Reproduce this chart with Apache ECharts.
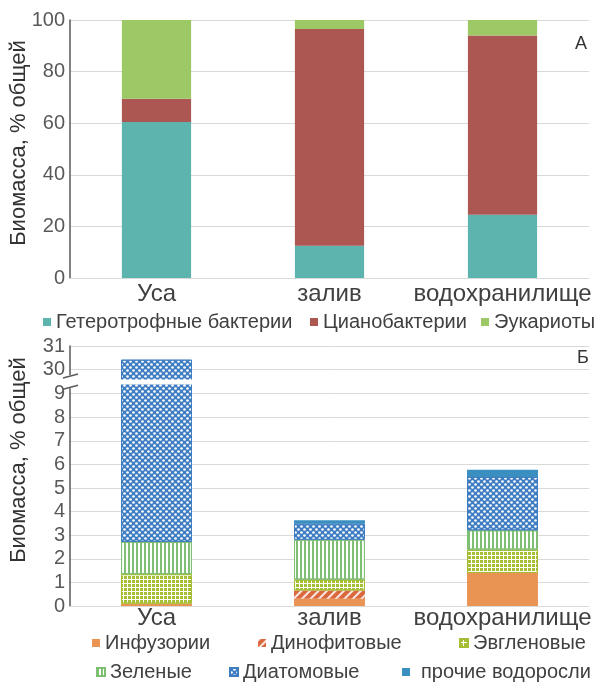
<!DOCTYPE html>
<html><head><meta charset="utf-8">
<script src="https://cdn.jsdelivr.net/npm/echarts@6/dist/echarts.min.js"></script>
<style>html,body{margin:0;padding:0;background:#fff}#c{width:600px;height:684px}</style>
</head><body><div id="c"></div>
<script>
// ---- data ----
const categories = ['Уса', 'залив', 'водохранилище'];
const seriesTopNames = ['Гетеротрофные бактерии', 'Цианобактерии', 'Эукариоты'];
const heterotrophs = [60.5, 12.5, 24.5];
const cyanobacteria = [9.0, 84.0, 69.5];
const eukaryotes = [30.5, 3.5, 6.0];
const topYMax = 100;
const topYInterval = 20;

const seriesBottomNames = ['Инфузории', 'Динофитовые', 'Эвгленовые', 'Зеленые', 'Диатомовые', 'прочие водоросли'];
const infusoria = [0.1, 0.31, 1.40];
const dinophytes = [0, 0.35, 0];
const euglenoids = [1.25, 0.46, 0.99];
const greens = [1.37, 1.69, 0.82];
const diatoms = [27.7, 0.68, 2.26];
const otherAlgae = [0, 0.14, 0.31];
const bottomYMax = 31;
const bottomYTicks = [0, 1, 2, 3, 4, 5, 6, 7, 8, 9, 30, 31];
const bottomBreak = {start: 9.4, end: 29.6};

// ---- chart ----
const FF = '"Liberation Sans", Arial, sans-serif';
const chart = echarts.init(document.getElementById('c'));

const gridLine = {show: true, lineStyle: {color: '#d9d9d9', width: 1}};
const yLabel = {color: '#595959', fontSize: 20, fontFamily: FF, margin: 5};
const xLabel = {color: '#404040', fontSize: 24, fontFamily: FF, interval: 0};
const legText = {color: '#404040', fontSize: 20, fontFamily: FF};
const nameStyle = {fontSize: 22, fontFamily: FF, fill: '#333', align: 'center', verticalAlign: 'middle'};

function legendFor(name, left, top, padLeft) {
  return {data: [name], left: left, top: top, itemWidth: 8, itemHeight: 8, icon: 'rect',
    itemGap: 0, textStyle: Object.assign({}, legText, {padding: [0, 0, 0, padLeft || 0]}),
    padding: 0, selectedMode: false};
}

const bottomColors = {
  inf: '#ea9454', dino: '#d9683f', eug: '#a6be36', green: '#7fbf73', diat: '#3f7dc2', other: '#3b8fc0'
};

const option = {
  animation: false,
  backgroundColor: '#fff',
  grid: [
    {left: 70, right: 11, top: 20, height: 258},
    {left: 70, right: 11, top: 346, height: 260}
  ],
  xAxis: [
    {type: 'category', gridIndex: 0, data: categories, axisTick: {show: false},
     axisLine: {lineStyle: {color: '#d9d9d9'}}, axisLabel: Object.assign({}, xLabel, {margin: 4})},
    {type: 'category', gridIndex: 1, data: categories, axisTick: {show: false},
     axisLine: {lineStyle: {color: '#d9d9d9'}}, axisLabel: Object.assign({}, xLabel, {margin: 0})}
  ],
  yAxis: [
    {type: 'value', gridIndex: 0, min: 0, max: topYMax, interval: topYInterval,
     axisLine: {show: true, lineStyle: {color: '#595959', width: 1.5}}, axisTick: {show: false},
     splitLine: gridLine, axisLabel: yLabel},
    {type: 'value', gridIndex: 1, min: 0, max: bottomYMax, interval: 1,
     breaks: [{start: bottomBreak.start, end: bottomBreak.end, gap: '2%'}],
     breakArea: {show: true, zigzagAmplitude: 0, zigzagZ: 100,
       itemStyle: {color: '#fff', borderColor: '#fff', borderWidth: 0, opacity: 1}},
     axisLine: {show: true, lineStyle: {color: '#595959', width: 1.5}},
     axisTick: {show: false, customValues: bottomYTicks},
     splitLine: gridLine,
     axisLabel: Object.assign({}, yLabel, {customValues: bottomYTicks})}
  ],
  legend: [
    legendFor(seriesTopNames[0], 43, 312, 0),
    legendFor(seriesTopNames[1], 310, 312, 0),
    legendFor(seriesTopNames[2], 481, 312, 0),
    legendFor(seriesBottomNames[0], 92, 633, 0),
    legendFor(seriesBottomNames[1], 258, 633, 0),
    legendFor(seriesBottomNames[2], 459, 633, 0),
    legendFor(seriesBottomNames[3], 96, 662, 0),
    legendFor(seriesBottomNames[4], 229, 662, 0),
    legendFor(seriesBottomNames[5], 402, 662, 6)
  ],
  graphic: [
    {type: 'text', x: 19, y: 143, rotation: Math.PI / 2, style: Object.assign({text: 'Биомасса, % общей'}, nameStyle)},
    {type: 'text', x: 19, y: 460, rotation: Math.PI / 2, style: Object.assign({text: 'Биомасса, % общей'}, nameStyle)},
    {type: 'text', left: 575, top: 35, style: {text: 'А', fontSize: 18, fontFamily: FF, fill: '#333'}},
    {type: 'text', left: 577, top: 349, style: {text: 'Б', fontSize: 18, fontFamily: FF, fill: '#333'}}
  ],
  series: [
    {name: seriesTopNames[0], type: 'bar', stack: 'a', xAxisIndex: 0, yAxisIndex: 0, barWidth: '40%',
     data: heterotrophs, itemStyle: {color: '#5db3ad'}},
    {name: seriesTopNames[1], type: 'bar', stack: 'a', xAxisIndex: 0, yAxisIndex: 0, barWidth: '40%',
     data: cyanobacteria, itemStyle: {color: '#ad5753'}},
    {name: seriesTopNames[2], type: 'bar', stack: 'a', xAxisIndex: 0, yAxisIndex: 0, barWidth: '40%',
     data: eukaryotes, itemStyle: {color: '#9cc866'}},

    {name: seriesBottomNames[0], type: 'bar', stack: 'b', xAxisIndex: 1, yAxisIndex: 1, barWidth: '41%',
     data: infusoria, itemStyle: {color: bottomColors.inf}},
    {name: seriesBottomNames[1], type: 'bar', stack: 'b', xAxisIndex: 1, yAxisIndex: 1, barWidth: '41%',
     data: dinophytes, itemStyle: {color: bottomColors.dino,
       decal: {symbol: 'rect', color: 'rgba(255,255,255,0.85)', dashArrayX: [1, 0], dashArrayY: [2, 4], rotation: -Math.PI / 4}}},
    {name: seriesBottomNames[2], type: 'bar', stack: 'b', xAxisIndex: 1, yAxisIndex: 1, barWidth: '41%',
     data: euglenoids, itemStyle: {color: '#ffffff', borderColor: bottomColors.eug, borderWidth: 1,
       decal: {symbol: 'rect', color: bottomColors.eug, dashArrayX: [3, 1], dashArrayY: [3, 1], symbolSize: 1}}},
    {name: seriesBottomNames[3], type: 'bar', stack: 'b', xAxisIndex: 1, yAxisIndex: 1, barWidth: '41%',
     data: greens, itemStyle: {color: '#ffffff', borderColor: bottomColors.green, borderWidth: 1,
       decal: {symbol: 'rect', color: bottomColors.green, dashArrayX: [2, 2], dashArrayY: [4, 0], symbolSize: 1}}},
    {name: seriesBottomNames[4], type: 'bar', stack: 'b', xAxisIndex: 1, yAxisIndex: 1, barWidth: '41%',
     data: diatoms, itemStyle: {color: bottomColors.diat, borderColor: bottomColors.diat, borderWidth: 1,
       decal: {symbol: 'circle', color: '#ffffff', dashArrayX: [[3, 3], [0, 3, 3, 0]], dashArrayY: [3, 0], symbolSize: 0.9}}},
    {name: seriesBottomNames[5], type: 'bar', stack: 'b', xAxisIndex: 1, yAxisIndex: 1, barWidth: '41%',
     data: otherAlgae, itemStyle: {color: bottomColors.other}}
  ]
};
chart.setOption(option);

// axis break marks on the lower y axis, placed via the axis scale
const yLo = chart.convertToPixel({yAxisIndex: 1}, bottomBreak.start);
const yHi = chart.convertToPixel({yAxisIndex: 1}, bottomBreak.end);
const ax = chart.convertToPixel({xAxisIndex: 1}, 0) - (chart.convertToPixel({xAxisIndex: 1}, 1) - chart.convertToPixel({xAxisIndex: 1}, 0)) / 2;
if (isFinite(yLo) && isFinite(yHi) && isFinite(ax)) {
  const extra = option.graphic.slice();
  extra.push({type: 'rect', shape: {x: ax - 2, y: yHi - 4, width: 4, height: yLo - yHi + 8}, style: {fill: '#fff'}, z: 200});
  extra.push({type: 'line', shape: {x1: ax - 7, y1: yHi - 1, x2: ax + 8, y2: yHi - 5}, style: {stroke: '#595959', lineWidth: 1.5}, z: 201});
  extra.push({type: 'line', shape: {x1: ax - 7, y1: yLo + 5, x2: ax + 8, y2: yLo + 1}, style: {stroke: '#595959', lineWidth: 1.5}, z: 201});
  chart.setOption({graphic: extra});
}
</script></body></html>
